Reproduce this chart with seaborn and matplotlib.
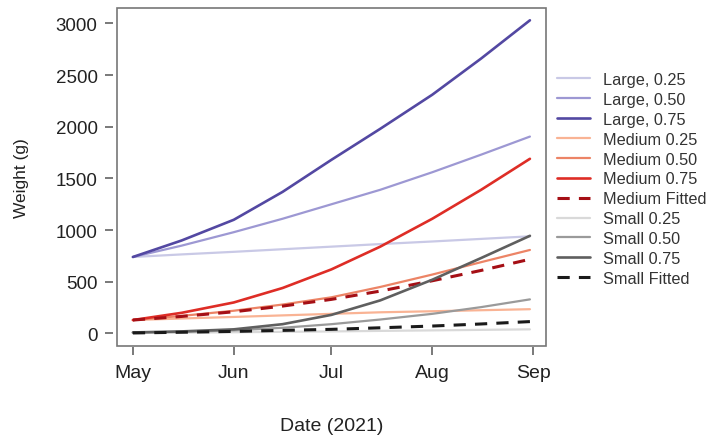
import matplotlib
matplotlib.use("Agg")
import matplotlib.pyplot as plt
from matplotlib.patches import Rectangle
import seaborn as sns
import pandas as pd

sns.set_style("white")
plt.rcParams['font.family'] = ['Liberation Sans', 'DejaVu Sans']

dates = ["2021-05-01", "2021-05-16", "2021-06-01", "2021-06-16", "2021-07-01",
         "2021-07-16", "2021-08-01", "2021-08-16", "2021-08-31"]

large_025 = [740, 765, 790, 815, 840, 865, 890, 915, 940]
large_050 = [740, 850, 980, 1110, 1250, 1390, 1560, 1730, 1905]
large_075 = [740, 900, 1100, 1370, 1680, 1980, 2310, 2660, 3030]
medium_025 = [130, 145, 160, 175, 190, 205, 215, 225, 235]
medium_050 = [130, 170, 220, 280, 350, 450, 570, 690, 808]
medium_075 = [130, 200, 300, 440, 620, 840, 1110, 1390, 1690]
medium_fit = [130, 165, 210, 265, 330, 410, 510, 610, 718]
small_025 = [5, 8, 12, 16, 20, 25, 30, 35, 40]
small_050 = [10, 15, 30, 55, 90, 135, 190, 255, 330]
small_075 = [10, 20, 40, 90, 180, 320, 520, 730, 945]
small_fit = [5, 12, 20, 30, 40, 55, 72, 92, 115]

series_names = ["Large, 0.25", "Large, 0.50", "Large, 0.75", "Medium 0.25", "Medium 0.50",
                "Medium 0.75", "Medium Fitted", "Small 0.25", "Small 0.50", "Small 0.75",
                "Small Fitted"]
series_values = [large_025, large_050, large_075, medium_025, medium_050, medium_075,
                 medium_fit, small_025, small_050, small_075, small_fit]
colors = ["#c9c9e6", "#9d98d3", "#5348a2", "#f9b394", "#ec8466", "#de2d26", "#a50f15",
          "#d9d9d9", "#9a9a9a", "#5f5f5f", "#1a1a1a"]
dashed = [False, False, False, False, False, False, True, False, False, False, True]
widths = [1.6, 1.6, 1.9, 1.6, 1.6, 1.9, 2.2, 1.6, 1.6, 1.9, 2.2]

month_ticks = ["2021-05-01", "2021-06-01", "2021-07-01", "2021-08-01", "2021-09-01"]
month_labels = ["May", "Jun", "Jul", "Aug", "Sep"]
y_ticks = [0, 500, 1000, 1500, 2000, 2500, 3000]

rows = []
for name, vals in zip(series_names, series_values):
    for d, v in zip(dates, vals):
        rows.append({"Date": pd.Timestamp(d), "Weight": v, "Series": name})
df = pd.DataFrame(rows)

fig = plt.figure(figsize=(7.07, 4.39), dpi=100)
ax = fig.add_axes([0.1655, 0.2096, 0.6065, 0.7704])

handles = []
for name, col, ds, lw in zip(series_names, colors, dashed, widths):
    sub = df[df["Series"] == name]
    sns.lineplot(data=sub, x="Date", y="Weight", ax=ax, color=col, linewidth=lw,
                 linestyle=(0, (4, 3)) if ds else "-", label=name, legend=False)
    handles.append(ax.lines[-1])

ax.set_ylim(-121, 3151)
x0 = pd.Timestamp("2021-05-01")
x1 = pd.Timestamp("2021-08-31")
span = (x1 - x0) * 0.04
ax.set_xlim(x0 - span, x1 + span)

ax.set_yticks(y_ticks)
ax.set_yticklabels([str(t) for t in y_ticks])
ax.set_xticks([pd.Timestamp(t) for t in month_ticks])
ax.set_xticklabels(month_labels)

for s in ["top", "right"]:
    ax.spines[s].set_visible(False)
ax.spines["left"].set_position(("outward", 3))
ax.spines["bottom"].set_position(("outward", 1))
ax.spines["left"].set_color("none")
ax.spines["bottom"].set_color("none")
ax.add_patch(Rectangle((0, 0), 1, 1, transform=ax.transAxes, fill=False,
                       edgecolor="#777777", linewidth=1.2, clip_on=False, zorder=5))

ax.tick_params(axis="both", direction="out", length=6, width=1.1, color="#555555",
               labelcolor="#222222", left=True, bottom=True)
ax.tick_params(axis="y", pad=5, labelsize=13.5)
ax.tick_params(axis="x", pad=6, labelsize=14)
ax.set_xlabel("Date (2021)", fontsize=14, color="#222222", labelpad=26)
ax.set_ylabel("Weight (g)", fontsize=12.5, color="#222222", labelpad=19)

fig.legend(handles=handles, labels=series_names, loc="center left",
           bbox_to_anchor=(0.788, 0.59), frameon=False, fontsize=11.7,
           labelspacing=0.3, handlelength=2.05, handletextpad=0.8,
           borderaxespad=0, borderpad=0, labelcolor="#333333")

fig.savefig("out.png", dpi=100)
